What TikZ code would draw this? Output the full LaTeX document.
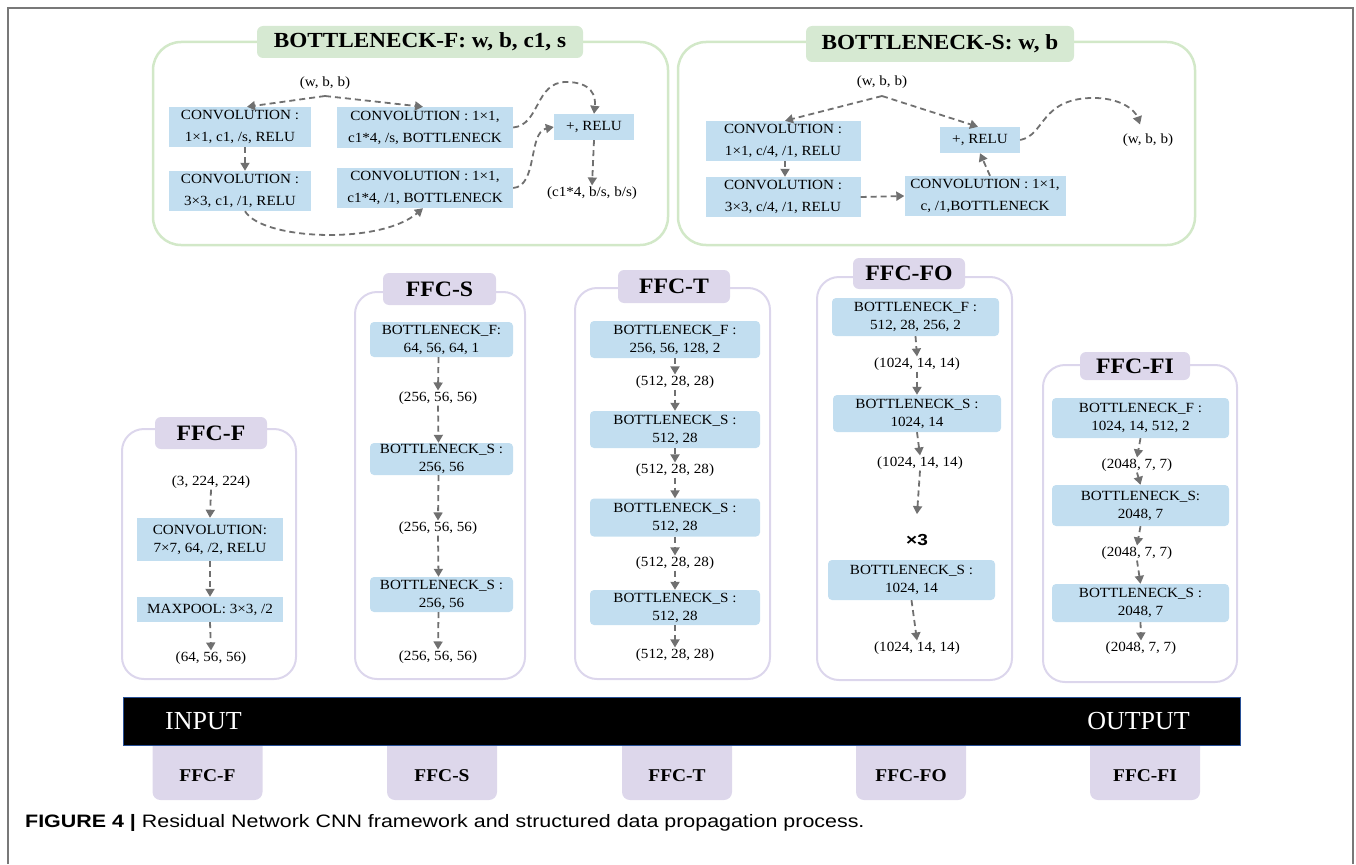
\documentclass[tikz,border=0pt]{standalone}
\usepackage{fontspec}
\setmainfont{Liberation Serif}[FakeStretch=1.08]
\setsansfont{Liberation Sans}[FakeStretch=1.19]
\newfontfamily\plainserif{Liberation Serif}
\usetikzlibrary{arrows.meta}
\newcommand{\myfs}[2]{\fontsize{#1}{#2}\selectfont}
\definecolor{boxblue}{RGB}{194,222,240}
\definecolor{purfill}{RGB}{221,215,235}
\definecolor{purline}{RGB}{220,214,236}
\definecolor{grnline}{RGB}{210,232,200}
\definecolor{grnfill}{RGB}{214,233,210}
\definecolor{arrgray}{RGB}{112,112,112}
\definecolor{framegray}{RGB}{120,120,120}
\definecolor{barblue}{RGB}{40,80,150}
\begin{document}
\begin{tikzpicture}[x=1pt,y=-1pt,
  bbox/.style={fill=boxblue, inner sep=0pt, align=center, font=\myfs{14}{22}},
  cbox/.style={fill=boxblue, rounded corners=4pt, inner sep=0pt, align=center, font=\myfs{14}{18}},
  lbl/.style={inner sep=1pt, font=\myfs{14}{15}},
  arr/.style={draw=arrgray, line width=1.8pt, dash pattern=on 6pt off 4pt, -{Triangle[length=8pt,width=9pt]}},
  grnframe/.style={draw=grnline, line width=2.5pt, rounded corners=28pt, inner sep=0pt},
  grntitle/.style={fill=grnfill, rounded corners=6pt, inner sep=0pt, font=\bfseries\myfs{21.5}{23}},
  purframe/.style={draw=purline, line width=2pt, rounded corners=22pt, inner sep=0pt},
  purtitle/.style={fill=purfill, rounded corners=6pt, inner sep=0pt, font=\bfseries\myfs{22}{24}},
  botbox/.style={fill=purfill, rounded corners=8pt, inner sep=0pt, minimum width=110, minimum height=65},
  bottxt/.style={inner sep=0pt, font=\bfseries\myfs{18}{20}},
  bartxt/.style={inner sep=0pt, text=white, font=\plainserif\myfs{26}{28}},
]
\useasboundingbox (0,0) rectangle (1356,864);
% outer frame
\draw[framegray, line width=1.5pt] (8,864) -- (8,8) -- (1353,8) -- (1353,864);

% ===== BOTTLENECK-F =====
\node[grnframe, minimum width=515, minimum height=203] (BFf) at (410.5,143.5) {};
\node[grntitle, minimum width=326, minimum height=32] (BFt) at (420,42) {BOTTLENECK-F: w, b, c1, s};
\node[lbl] (BFin) at (325,83) {(w, b, b)};
\node[bbox, minimum width=142, minimum height=40] (C1) at (240,127) {CONVOLUTION :\\1×1, c1, /s, RELU};
\node[bbox, minimum width=142, minimum height=40] (C2) at (240,191) {CONVOLUTION :\\3×3, c1, /1, RELU};
\node[bbox, minimum width=176, minimum height=41] (C3) at (425,127.5) {CONVOLUTION : 1×1,\\c1*4, /s, BOTTLENECK};
\node[bbox, minimum width=176, minimum height=40] (C4) at (425,188) {CONVOLUTION : 1×1,\\c1*4, /1, BOTTLENECK};
\node[bbox, minimum width=80, minimum height=26] (A1) at (594,127) {+, RELU};
\node[lbl] (BFout) at (592,193) {(c1*4, b/s, b/s)};
\coordinate (BFap) at (325,96);
\draw[arr] (BFap) -- ([xshift=7pt]C1.north);
\draw[arr] (BFap) -- ([xshift=-2pt]C3.north);
\draw[arr] ([xshift=5pt]C1.south) -- ([xshift=5pt]C2.north);
\draw[arr] ([xshift=5pt]C2.south) .. controls (262,240) and (380,245) .. ([xshift=-2pt]C4.south);
\draw[arr] (C3.east) .. controls (540,125) and (535,82) .. (566,82) .. controls (592,82) and (596,96) .. (A1.north);
\draw[arr] (C4.east) .. controls (538,186) and (528,132) .. (A1.west);
\draw[arr] (A1.south) -- (BFout.north);

% ===== BOTTLENECK-S =====
\node[grnframe, minimum width=517, minimum height=203] (BSf) at (936.5,143.5) {};
\node[grntitle, minimum width=268, minimum height=36] (BSt) at (940,44) {BOTTLENECK-S: w, b};
\node[lbl] (BSin) at (882,82) {(w, b, b)};
\node[bbox, minimum width=155, minimum height=40] (S1) at (783,141) {CONVOLUTION :\\1×1, c/4, /1, RELU};
\node[bbox, minimum width=155, minimum height=40] (S2) at (783,197) {CONVOLUTION :\\3×3, c/4, /1, RELU};
\node[bbox, minimum width=161, minimum height=40] (S3) at (985,196) {CONVOLUTION : 1×1,\\c, /1,BOTTLENECK};
\node[bbox, minimum width=80, minimum height=26] (S4) at (980,140) {+, RELU};
\node[lbl] (BSout) at (1148,140) {(w, b, b)};
\coordinate (BSap) at (882,96);
\draw[arr] (BSap) -- ([xshift=2pt]S1.north);
\draw[arr] (BSap) -- ([xshift=-2pt]S4.north);
\draw[arr] ([xshift=2pt]S1.south) -- ([xshift=2pt]S2.north);
\draw[arr] (S2.east) -- (S3.west);
\draw[arr] ([xshift=5pt]S3.north) -- (S4.south);
\draw[arr] (S4.east) .. controls (1045,135) and (1040,100) .. (1090,98) .. controls (1120,97) and (1135,110) .. ([shift={(-8pt,8pt)}]BSout.north);

% ===== FFC-F =====
\node[purframe, minimum width=174, minimum height=250] (fF) at (209,554) {};
\node[purtitle, minimum width=112, minimum height=32] (tF) at (211,433) {FFC-F};
\node[lbl] (F1) at (211,482) {(3, 224, 224)};
\node[cbox, rounded corners=0pt, minimum width=146, minimum height=43] (Fc) at (210,539.5) {CONVOLUTION:\\7×7, 64, /2, RELU};
\node[cbox, rounded corners=0pt, minimum width=146, minimum height=25] (Fm) at (210,609.5) {MAXPOOL: 3×3, /2};
\node[lbl] (F2) at (211,658) {(64, 56, 56)};
\draw[arr] (F1.south) -- (Fc.north);
\draw[arr] (Fc.south) -- (Fm.north);
\draw[arr] (Fm.south) -- (F2.north);

% ===== FFC-S =====
\node[purframe, minimum width=170, minimum height=387] (fS) at (440,485.5) {};
\node[purtitle, minimum width=113, minimum height=32] (tS) at (439.5,289) {FFC-S};
\node[cbox, minimum width=143, minimum height=35] (Sb1) at (441.5,339.5) {BOTTLENECK\_F:\\64, 56, 64, 1};
\node[lbl] (St1) at (438,398) {(256, 56, 56)};
\node[cbox, minimum width=143, minimum height=32] (Sb2) at (441.5,459) {BOTTLENECK\_S :\\256, 56};
\node[lbl] (St2) at (438,528) {(256, 56, 56)};
\node[cbox, minimum width=143, minimum height=35] (Sb3) at (441.5,594.5) {BOTTLENECK\_S :\\256, 56};
\node[lbl] (St3) at (438,657) {(256, 56, 56)};
\draw[arr] ([xshift=-3pt]Sb1.south) -- (St1.north);
\draw[arr] (St1.south) -- ([xshift=-3pt]Sb2.north);
\draw[arr] ([xshift=-3pt]Sb2.south) -- (St2.north);
\draw[arr] (St2.south) -- ([xshift=-3pt]Sb3.north);
\draw[arr] ([xshift=-3pt]Sb3.south) -- (St3.north);

% ===== FFC-T =====
\node[purframe, minimum width=195, minimum height=391] (fT) at (672.5,483.5) {};
\node[purtitle, minimum width=112, minimum height=33] (tT) at (674,286.5) {FFC-T};
\node[cbox, minimum width=170, minimum height=37] (Tb1) at (675,339.5) {BOTTLENECK\_F :\\256, 56, 128, 2};
\node[lbl] (Tt1) at (675,382) {(512, 28, 28)};
\node[cbox, minimum width=170, minimum height=37] (Tb2) at (675,429.5) {BOTTLENECK\_S :\\512, 28};
\node[lbl] (Tt2) at (675,470) {(512, 28, 28)};
\node[cbox, minimum width=170, minimum height=38] (Tb3) at (675,517.5) {BOTTLENECK\_S :\\512, 28};
\node[lbl] (Tt3) at (675,563) {(512, 28, 28)};
\node[cbox, minimum width=170, minimum height=35] (Tb4) at (675,607.5) {BOTTLENECK\_S :\\512, 28};
\node[lbl] (Tt4) at (675,655) {(512, 28, 28)};
\draw[arr] (Tb1.south) -- (Tt1.north);
\draw[arr] (Tt1.south) -- (Tb2.north);
\draw[arr] (Tb2.south) -- (Tt2.north);
\draw[arr] (Tt2.south) -- (Tb3.north);
\draw[arr] (Tb3.south) -- (Tt3.north);
\draw[arr] (Tt3.south) -- (Tb4.north);
\draw[arr] (Tb4.south) -- (Tt4.north);

% ===== FFC-FO =====
\node[purframe, minimum width=195, minimum height=403] (fFO) at (914.5,478.5) {};
\node[purtitle, minimum width=112, minimum height=31] (tFO) at (909,273.5) {FFC-FO};
\node[cbox, minimum width=167, minimum height=38] (Ob1) at (915.5,317) {BOTTLENECK\_F :\\512, 28, 256, 2};
\node[lbl] (Ot1) at (917,364) {(1024, 14, 14)};
\node[cbox, minimum width=168, minimum height=37] (Ob2) at (917,413.5) {BOTTLENECK\_S :\\1024, 14};
\node[lbl] (Ot2) at (920,463) {(1024, 14, 14)};
\node[inner sep=0pt, font=\sffamily\bfseries\myfs{16}{18}] (Ox3) at (917,540) {×3};
\node[cbox, minimum width=167, minimum height=40] (Ob3) at (911.5,580) {BOTTLENECK\_S :\\1024, 14};
\node[lbl] (Ot3) at (917,648) {(1024, 14, 14)};
\draw[arr] (Ob1.south) -- (Ot1.north);
\draw[arr] (Ot1.south) -- (Ob2.north);
\draw[arr] (Ob2.south) -- (Ot2.north);
\draw[arr] (Ot2.south) -- ([yshift=20pt]Ox3.north);
\draw[arr] (Ob3.south) -- (Ot3.north);

% ===== FFC-FI =====
\node[purframe, minimum width=194, minimum height=317] (fFI) at (1140,523.5) {};
\node[purtitle, minimum width=110, minimum height=28] (tFI) at (1135,366) {FFC-FI};
\node[cbox, minimum width=177, minimum height=40] (Ib1) at (1140.5,418) {BOTTLENECK\_F :\\1024, 14, 512, 2};
\node[lbl] (It1) at (1137,465) {(2048, 7, 7)};
\node[cbox, minimum width=177, minimum height=41] (Ib2) at (1140.5,505.5) {BOTTLENECK\_S:\\2048, 7};
\node[lbl] (It2) at (1137,553) {(2048, 7, 7)};
\node[cbox, minimum width=177, minimum height=38] (Ib3) at (1140.5,603) {BOTTLENECK\_S :\\2048, 7};
\node[lbl] (It3) at (1141,648) {(2048, 7, 7)};
\draw[arr] (Ib1.south) -- (It1.north);
\draw[arr] (It1.south) -- (Ib2.north);
\draw[arr] (Ib2.south) -- (It2.north);
\draw[arr] (It2.south) -- (Ib3.north);
\draw[arr] (Ib3.south) -- (It3.north);

% ===== bottom labels and bar =====
\node[botbox] (gF) at (207.5,767.5) {};
\node[botbox] (gS) at (442,767.5) {};
\node[botbox] (gT) at (677,767.5) {};
\node[botbox] (gFO) at (911,767.5) {};
\node[botbox] (gFI) at (1145,767.5) {};
\node[bottxt] (gFt) at (207.5,776) {FFC-F};
\node[bottxt] (gSt) at (442,776) {FFC-S};
\node[bottxt] (gTt) at (677,776) {FFC-T};
\node[bottxt] (gFOt) at (911,776) {FFC-FO};
\node[bottxt] (gFIt) at (1145,776) {FFC-FI};
\node[fill=black, draw=barblue, line width=1pt, inner sep=0pt, minimum width=1117, minimum height=48] (bar) at (681.5,721) {};
\node[bartxt, anchor=west] (inp) at (165,721) {INPUT};
\node[bartxt, anchor=east] (outp) at (1190,721) {OUTPUT};

% caption
\node[anchor=west, inner sep=0pt, font=\sffamily\myfs{18}{20}] (cap) at (25,823) {\textbf{FIGURE 4 |} Residual Network CNN framework and structured data propagation process.};
\end{tikzpicture}
\end{document}
